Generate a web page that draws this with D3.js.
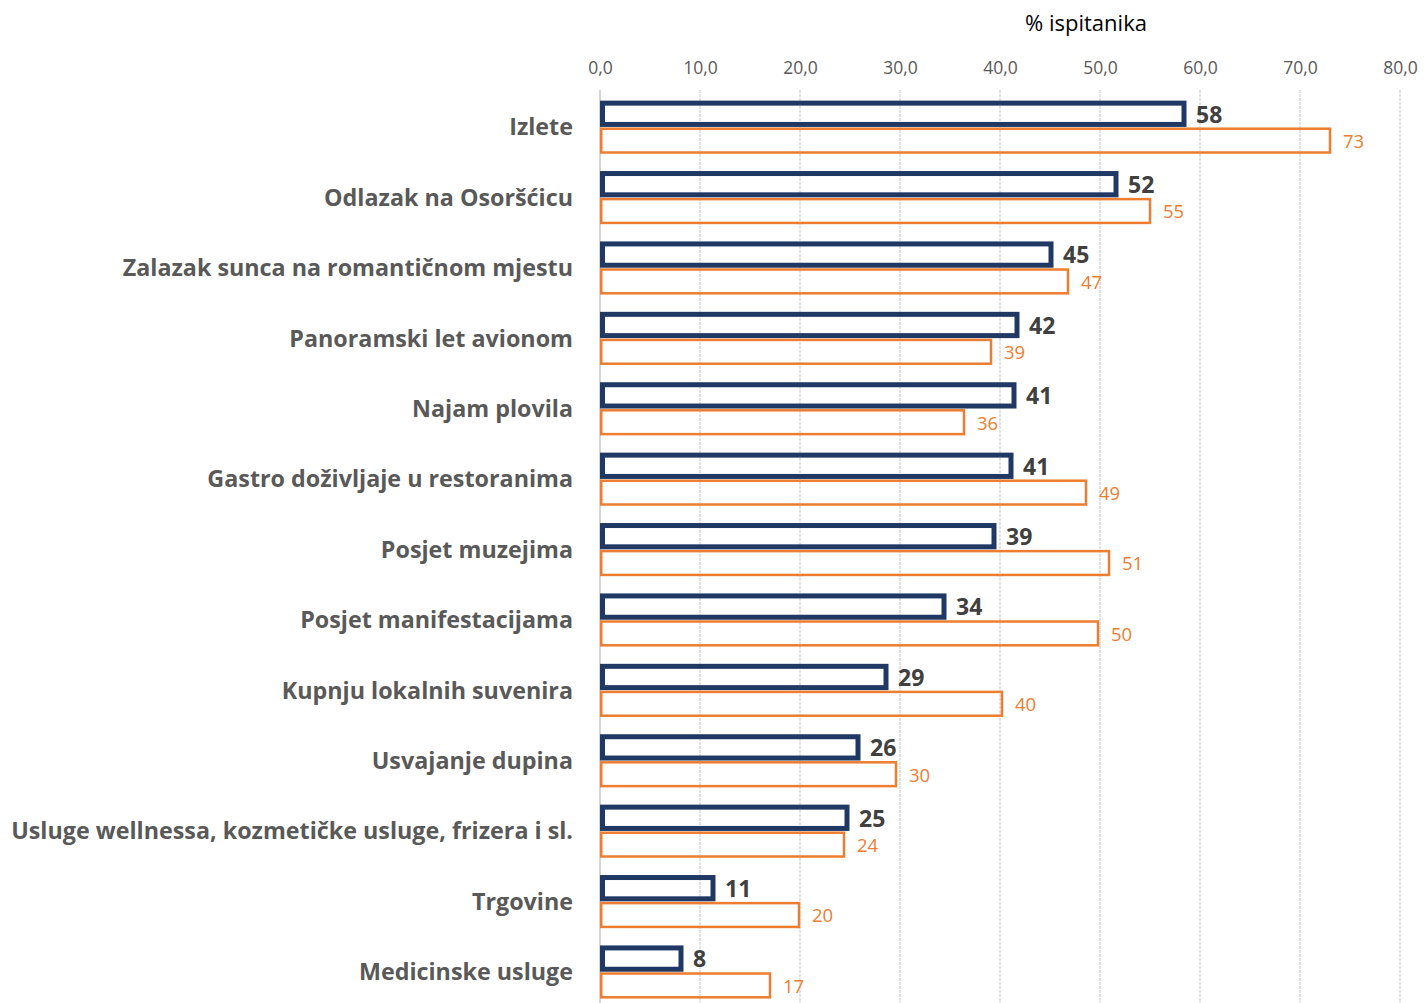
<!DOCTYPE html>
<html>
<head>
<meta charset="utf-8">
<script src="https://cdn.jsdelivr.net/npm/d3@7"></script>
<style>
    body { margin: 0; background: #fff; }
    svg { display: block; font-family: "Open Sans", sans-serif; }
</style>
</head>
<body>
<script>
(function() {
    "use strict";

    var categories = [
        "Izlete",
        "Odlazak na Osoršćicu",
        "Zalazak sunca na romantičnom mjestu",
        "Panoramski let avionom",
        "Najam plovila",
        "Gastro doživljaje u restoranima",
        "Posjet muzejima",
        "Posjet manifestacijama",
        "Kupnju lokalnih suvenira",
        "Usvajanje dupina",
        "Usluge wellnessa, kozmetičke usluge, frizera i sl.",
        "Trgovine",
        "Medicinske usluge"
    ];

    var blueValues = [58.4, 51.6, 45.1, 41.7, 41.4, 41.1, 39.4, 34.4, 28.6, 25.8, 24.7, 11.3, 8.1];
    var orangeValues = [73.0, 55.0, 46.8, 39.1, 36.4, 48.6, 50.9, 49.8, 40.2, 29.6, 24.4, 19.9, 17.0];
    var tickValues = [0, 10, 20, 30, 40, 50, 60, 70, 80];
    var series = ["blue", "orange"];

    var width = 1424,
        height = 1003;

    var colors = { blue: "#1f3864", orange: "#ed7d31" };
    var strokes = { blue: 5, orange: 2.5 };

    var rows = categories.map(function(c, i) {
        return { name: c, blue: blueValues[i], orange: orangeValues[i] };
    });

    var xScale = d3.scaleLinear()
                   .domain([0, 80])
                   .range([600, 1400]);

    var yScale = d3.scaleBand()
                   .domain(categories)
                   .range([92, 92 + 13 * 70.4])
                   .paddingInner(0.23)
                   .paddingOuter(0.115);

    var ySub = d3.scaleBand()
                 .domain(series)
                 .range([0, yScale.bandwidth()])
                 .padding(0.02);

    var svg = d3.select("body").append("svg")
        .attr("width", width)
        .attr("height", height);

    // gridlines
    svg.append("g")
        .selectAll("line")
        .data(tickValues)
        .enter().append("line")
            .attr("x1", function(d) { return xScale(d); })
            .attr("x2", function(d) { return xScale(d); })
            .attr("y1", 90)
            .attr("y2", height)
            .style("stroke", function(d) { return d === 0 ? "#c8c8c8" : "#d9d9d9"; })
            .style("stroke-width", 1.5)
            .style("stroke-dasharray", function(d) { return d === 0 ? null : "3,1"; });

    // top axis labels
    var axis = d3.axisTop(xScale)
                 .tickValues(tickValues)
                 .tickSize(0)
                 .tickPadding(0)
                 .tickFormat(function(d) { return d3.format(".1f")(d).replace(".", ","); });

    var axisG = svg.append("g")
        .attr("transform", "translate(0,74)")
        .call(axis);
    axisG.select(".domain").remove();
    axisG.selectAll("text")
        .style("font-size", "17.5px")
        .style("fill", "#595959")
        .style("font-family", "\"Open Sans\", sans-serif");

    svg.append("text")
        .attr("x", 1086)
        .attr("y", 31)
        .attr("text-anchor", "middle")
        .style("font-size", "22px")
        .style("fill", "#000")
        .text("% ispitanika");

    // category labels
    svg.append("g")
        .selectAll("text")
        .data(categories)
        .enter().append("text")
            .attr("x", 573)
            .attr("y", function(d) { return yScale(d) + yScale.bandwidth() / 2; })
            .attr("dy", "0.35em")
            .attr("text-anchor", "end")
            .style("font-size", "23.3px")
            .style("font-weight", 700)
            .style("fill", "#595959")
            .text(function(d) { return d; });

    var groups = svg.append("g")
        .selectAll("g")
        .data(rows)
        .enter().append("g")
            .attr("transform", function(d) { return "translate(0," + yScale(d.name) + ")"; });

    series.forEach(function(s) {
        var inset = strokes[s] / 2;

        groups.append("rect")
            .attr("x", xScale(0) + inset)
            .attr("y", ySub(s) + inset)
            .attr("width", function(d) { return Math.max(0, xScale(d[s]) - xScale(0) - inset); })
            .attr("height", ySub.bandwidth() - 2 * inset)
            .style("fill", "none")
            .style("stroke", colors[s])
            .style("stroke-width", strokes[s]);

        groups.append("text")
            .attr("x", function(d) { return xScale(d[s]) + (s === "blue" ? 12 : 13); })
            .attr("y", ySub(s) + ySub.bandwidth() / 2)
            .attr("dy", s === "blue" ? "0.38em" : "0.4em")
            .style("font-size", s === "blue" ? "23px" : "18.5px")
            .style("font-weight", s === "blue" ? 700 : 400)
            .style("fill", s === "blue" ? "#404040" : colors.orange)
            .text(function(d) { return d3.format(".0f")(d[s]); });
    });
})();
</script>
</body>
</html>
